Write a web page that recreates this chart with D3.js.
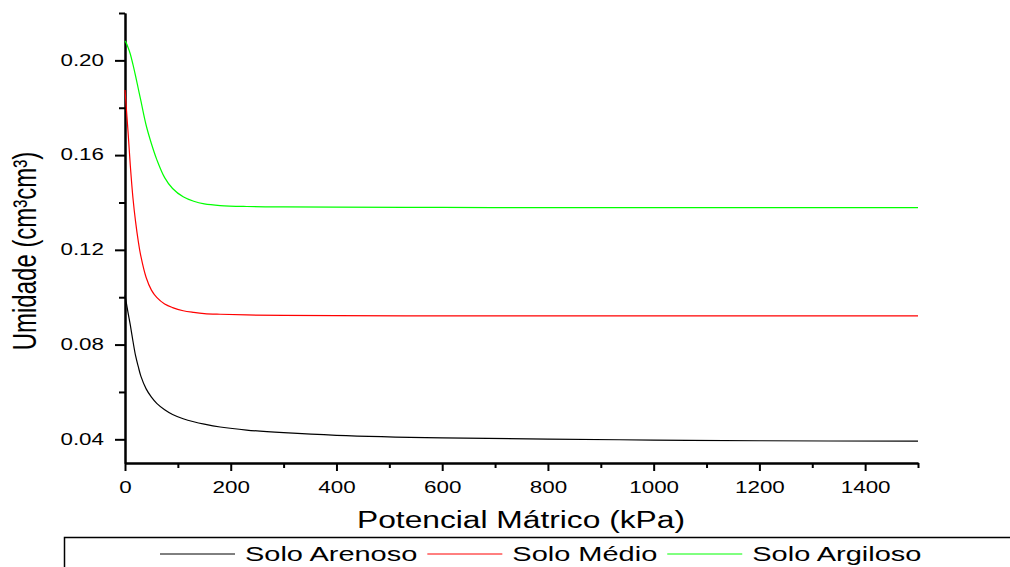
<!DOCTYPE html>
<head>
    <meta charset="utf-8">
    <script src="https://d3js.org/d3.v7.min.js"></script>
    <style>
        body { margin: 0; background: #fff; }
        text { font-family: "Liberation Sans", Arial, sans-serif; fill: #000; }
    </style>
</head>
<body>
    <svg></svg>
</body>

<script>
    // Data (kPa vs volumetric moisture)
    var kpa = [0, 2, 6, 10, 15, 20, 25, 30, 40, 50, 60, 75, 90, 110, 130, 150, 180, 230, 300, 400, 600, 800, 1000, 1200, 1500];
    var arenoso = [0.1008, 0.0982, 0.0932, 0.0883, 0.0815, 0.0753, 0.0708, 0.0667, 0.0613, 0.0578, 0.0552, 0.0525, 0.0505, 0.0487, 0.0474, 0.0464, 0.0452, 0.0439, 0.0428, 0.0417, 0.0406, 0.0401, 0.0397, 0.0394, 0.0392];
    var medio = [0.1875, 0.1815, 0.1690, 0.1557, 0.1420, 0.1319, 0.1238, 0.1173, 0.1083, 0.1030, 0.0999, 0.0971, 0.0956, 0.0943, 0.0936, 0.0931, 0.0928, 0.0925, 0.0923, 0.0922, 0.0921, 0.0921, 0.0921, 0.0921, 0.0921];
    var argiloso = [0.2082, 0.2075, 0.2053, 0.2027, 0.1983, 0.1934, 0.1882, 0.1830, 0.1726, 0.1648, 0.1582, 0.1505, 0.1459, 0.1424, 0.1405, 0.1394, 0.1387, 0.1383, 0.1381, 0.1380, 0.1379, 0.1378, 0.1378, 0.1378, 0.1378];
    var seriesNames = ["Solo Arenoso", "Solo Médio", "Solo Argiloso"];
    var seriesColors = ["#000000", "#ff0000", "#00ff00"];

    var xMajor = [0, 200, 400, 600, 800, 1000, 1200, 1400];
    var xMinor = [100, 300, 500, 700, 900, 1100, 1300, 1500];
    var yMajor = [0.04, 0.08, 0.12, 0.16, 0.20];
    var yMinor = [0.06, 0.10, 0.14, 0.18, 0.22];

    // Variables
    var width = 1010;
    var height = 567;
    var mLeft = 125, mRight = 918, mTop = 13, mBottom = 463;
    var SX = 1.4; // the original picture is stretched horizontally

    var svg = d3.select('svg')
        .attr('width', width)
        .attr('height', height);

    var x = d3.scaleLinear().domain([0, 1500]).range([mLeft, mRight]);
    var y = d3.scaleLinear().domain([0.03, 0.22]).range([mBottom, mTop]);

    // Axes
    var gy = svg.append('g').attr('transform', 'translate(' + mLeft + ',0)');
    gy.call(d3.axisLeft(y).tickValues(yMinor).tickSize(6).tickSizeOuter(0).tickFormat(''));
    gy.append('g').call(d3.axisLeft(y).tickValues(yMajor).tickSize(10).tickSizeOuter(0).tickFormat(d3.format('.2f')));
    gy.selectAll('text')
        .attr('font-size', 16)
        .attr('x', -21 / SX)
        .attr('dy', '0.3em')
        .attr('transform', 'scale(' + SX + ',1)');

    var gx = svg.append('g').attr('transform', 'translate(0,' + mBottom + ')');
    gx.call(d3.axisBottom(x).tickValues(xMinor).tickSize(5).tickSizeOuter(0).tickFormat(''));
    gx.append('g').call(d3.axisBottom(x).tickValues(xMajor).tickSize(8).tickSizeOuter(0).tickFormat(d3.format('d')));
    gx.selectAll('text')
        .attr('font-size', 16)
        .attr('y', 30)
        .attr('dy', 0)
        .attr('transform', 'scale(' + SX + ',1)');

    svg.selectAll('.domain, .tick line')
        .attr('stroke', '#000')
        .attr('stroke-width', 2);

    // Axis titles
    svg.append('text')
        .attr('transform', 'translate(521,528) scale(1.38,1)')
        .attr('text-anchor', 'middle')
        .attr('font-size', 23)
        .text('Potencial Mátrico (kPa)');

    svg.append('text')
        .attr('transform', 'translate(36,251) scale(1.35,1) rotate(-90)')
        .attr('text-anchor', 'middle')
        .attr('font-size', 24)
        .text('Umidade (cm³cm³)');

    // Lines
    var data = [arenoso, medio, argiloso];
    var line = d3.line()
        .x(function (d, i) { return x(kpa[i]); })
        .y(function (d) { return y(d); })
        .curve(d3.curveCatmullRom.alpha(0.5));

    svg.selectAll('path.serie')
        .data(data)
        .enter().append('path')
        .attr('class', 'serie')
        .attr('d', line)
        .attr('fill', 'none')
        .attr('stroke-width', 1.2)
        .attr('stroke', function (d, i) { return seriesColors[i]; });

    // Legend
    svg.append('rect')
        .attr('x', 64.5).attr('y', 537.5)
        .attr('width', 1000).attr('height', 100)
        .attr('fill', 'none').attr('stroke', '#000').attr('stroke-width', 1.5);

    var lx = 160;
    seriesNames.forEach(function (name, i) {
        svg.append('line')
            .attr('x1', lx).attr('x2', lx + 75)
            .attr('y1', 554).attr('y2', 554)
            .attr('stroke', seriesColors[i]).attr('stroke-width', 1);
        var t = svg.append('text')
            .attr('transform', 'translate(' + (lx + 85) + ',561) scale(1.38,1)')
            .attr('font-size', 21)
            .text(name);
        lx += 85 + t.node().getComputedTextLength() * 1.38 + 10;
    });
</script>
